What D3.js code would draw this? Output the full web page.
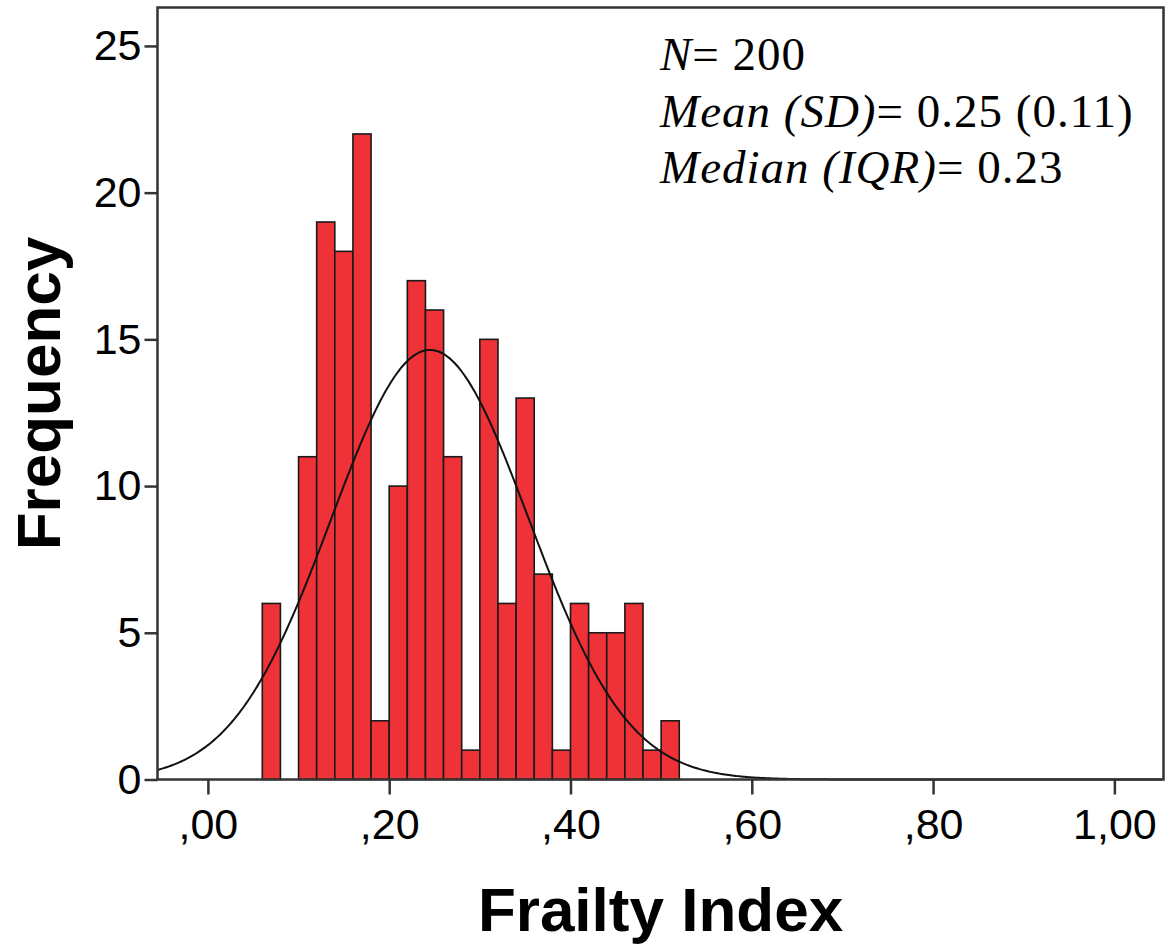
<!DOCTYPE html>
<html><head><meta charset="utf-8">
<script src="https://cdn.jsdelivr.net/npm/d3@7"></script>
<style>html,body{margin:0;padding:0;background:#fff;}</style>
</head><body>
<svg id="chart" width="1165" height="944"></svg>
<script>
// Histogram bins (lower edge of each 0.02-wide bin) and counts
const binStarts = [0.06,0.08,0.10,0.12,0.14,0.16,0.18,0.20,0.22,0.24,0.26,0.28,0.30,0.32,0.34,0.36,0.38,0.40,0.42,0.44,0.46,0.48,0.50];
const counts    = [6,   0,   11,  19,  18,  22,  2,   10,  17,  16,  11,  1,   15,  6,   13,  7,   1,   6,   5,   5,   6,   1,   2];
const binWidth = 0.02;
const xTicks = [0,0.2,0.4,0.6,0.8,1.0];
const xTickLabels = [",00",",20",",40",",60",",80","1,00"];
const yTicks = [0,5,10,15,20,25];
const fitMean = 0.245, fitSD = 0.109, nTotal = 200;
const statLines = [
  {it:"N", rest:"= 200"},
  {it:"Mean (SD)", rest:"= 0.25 (0.11)"},
  {it:"Median (IQR)", rest:"= 0.23"}
];

const svg = d3.select("#chart");
const L = 157.5, R = 1163.5, T = 7.5, B = 779.5;
const x = d3.scaleLinear().domain([-0.0556, 1.0542]).range([L, R]);
const y = d3.scaleLinear().domain([0, 26.31]).range([B, T]);

// bars
svg.append("g").selectAll("rect").data(binStarts.map((s,i)=>({s, c:counts[i]})).filter(d=>d.c>0))
  .join("rect")
  .attr("x", d=>x(d.s)).attr("width", d=>x(d.s+binWidth)-x(d.s))
  .attr("y", d=>y(d.c)).attr("height", d=>y(0)-y(d.c))
  .attr("fill","#EE3238").attr("stroke","#1a1a1a").attr("stroke-width",1.6);

// normal curve
const xs = d3.range(-0.0556, 1.0542, 0.002);
const pdf = v => nTotal*binWidth/(fitSD*Math.sqrt(2*Math.PI))*Math.exp(-0.5*((v-fitMean)/fitSD)**2);
svg.append("path").datum(xs)
  .attr("d", d3.line().x(v=>x(v)).y(v=>y(pdf(v))))
  .attr("fill","none").attr("stroke","#111").attr("stroke-width",2);

// frame
svg.append("rect").attr("x",L).attr("y",T).attr("width",R-L).attr("height",B-T)
  .attr("fill","none").attr("stroke","#333").attr("stroke-width",2.5);

// axes
const xAxis = d3.axisBottom(x).tickValues(xTicks).tickFormat((d,i)=>xTickLabels[i]).tickSize(15).tickPadding(14);
const gx = svg.append("g").attr("transform",`translate(0,${B})`).call(xAxis);
gx.select(".domain").remove();
gx.selectAll("line").attr("stroke","#333").attr("stroke-width",2.5);
gx.selectAll("text").attr("font-family","'Liberation Sans', Arial, sans-serif").attr("font-size",43).attr("fill","#000");

const yAxis = d3.axisLeft(y).tickValues(yTicks).tickSize(13).tickPadding(3);
const gy = svg.append("g").attr("transform",`translate(${L},0)`).call(yAxis);
gy.select(".domain").remove();
gy.selectAll("line").attr("stroke","#333").attr("stroke-width",2.5);
gy.selectAll("text").attr("font-family","'Liberation Sans', Arial, sans-serif").attr("font-size",43).attr("fill","#000");

// axis titles
svg.append("text").attr("x",(L+R)/2).attr("y",931).attr("text-anchor","middle")
  .attr("font-family","'Liberation Sans', Arial, sans-serif").attr("font-weight","bold").attr("font-size",62)
  .text("Frailty Index");
svg.append("text").attr("transform",`translate(60,${(T+B)/2}) rotate(-90)`).attr("text-anchor","middle")
  .attr("font-family","'Liberation Sans', Arial, sans-serif").attr("font-weight","bold").attr("font-size",62)
  .text("Frequency");

// stats annotation
const st = svg.append("g").attr("font-family","'Liberation Serif', 'Times New Roman', serif").attr("font-size",47).attr("letter-spacing",1);
statLines.forEach((l,i)=>{
  const t = st.append("text").attr("x",660).attr("y",70+i*56.5);
  t.append("tspan").attr("font-style","italic").text(l.it);
  t.append("tspan").text(l.rest);
});
</script>
</body></html>
